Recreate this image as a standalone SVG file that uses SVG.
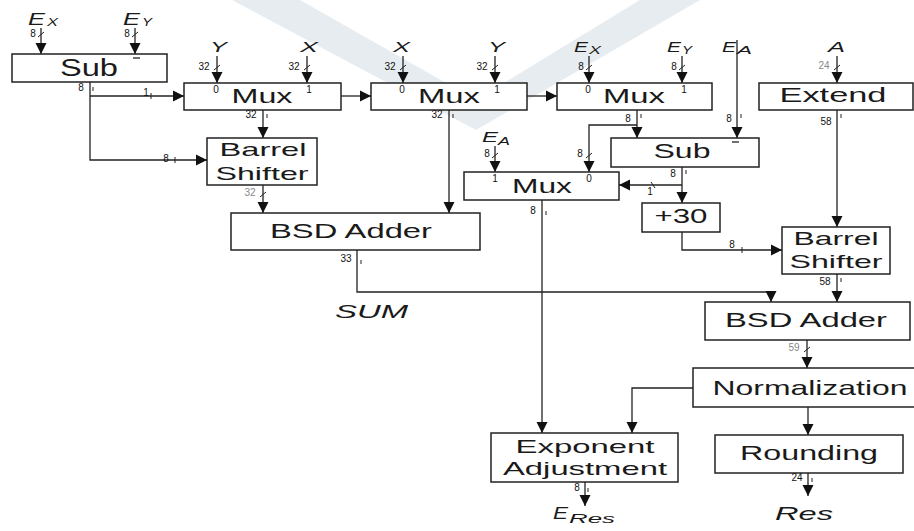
<svg xmlns="http://www.w3.org/2000/svg" width="914" height="531" viewBox="0 0 914 531">
<style>
.bx{fill:#fff;stroke:#222;stroke-width:1.5}
.ln{fill:none;stroke:#222;stroke-width:1.3}
.tk{fill:none;stroke:#222;stroke-width:1}
.t{font-family:"Liberation Sans",Arial,sans-serif;fill:#1a1a1a;text-anchor:middle}
.big{font-size:21px}
.mid{font-size:19px}
.sm{font-size:10px;fill:#111}
.gr{fill:#888}
.it{font-family:"Liberation Sans",Arial,sans-serif;font-style:italic;fill:#1a1a1a}
</style>
<defs>
<marker id="ah" markerWidth="12" markerHeight="12" refX="11" refY="6" orient="auto" markerUnits="userSpaceOnUse">
<path d="M0,0.5 L11,6 L0,11.5 z" fill="#111"/>
</marker>
</defs>
<rect width="914" height="531" fill="#fff"/>
<g id="watermark" fill="#e6ecef">
<polygon points="232,0 300,0 476,100 640,0 700,0 476,130"/>
</g>

<g id="connectors">
<line class="ln" x1="41" y1="28" x2="41" y2="54" marker-end="url(#ah)"/>
<line class="ln" x1="135" y1="28" x2="135" y2="54" marker-end="url(#ah)"/>
<polyline class="ln" points="90,82 90,160 207,160" marker-end="url(#ah)"/>
<line class="ln" x1="90" y1="96" x2="184" y2="96" marker-end="url(#ah)"/>
<line class="ln" x1="217" y1="56" x2="217" y2="83" marker-end="url(#ah)"/>
<line class="ln" x1="307" y1="56" x2="307" y2="83" marker-end="url(#ah)"/>
<line class="ln" x1="403" y1="56" x2="403" y2="83" marker-end="url(#ah)"/>
<line class="ln" x1="495" y1="56" x2="495" y2="83" marker-end="url(#ah)"/>
<line class="ln" x1="589" y1="56" x2="589" y2="83" marker-end="url(#ah)"/>
<line class="ln" x1="682" y1="56" x2="682" y2="83" marker-end="url(#ah)"/>
<line class="ln" x1="837" y1="56" x2="837" y2="83" marker-end="url(#ah)"/>
<line class="ln" x1="341" y1="96" x2="371" y2="96" marker-end="url(#ah)"/>
<line class="ln" x1="527" y1="96" x2="557" y2="96" marker-end="url(#ah)"/>
<line class="ln" x1="263" y1="110" x2="263" y2="138" marker-end="url(#ah)"/>
<line class="ln" x1="263" y1="185" x2="263" y2="213" marker-end="url(#ah)"/>
<line class="ln" x1="449" y1="110" x2="449" y2="213" marker-end="url(#ah)"/>
<line class="ln" x1="637" y1="110" x2="637" y2="138" marker-end="url(#ah)"/>
<polyline class="ln" points="637,125 589,125 589,172" marker-end="url(#ah)"/>
<line class="ln" x1="737" y1="40" x2="737" y2="138" marker-end="url(#ah)"/>
<line class="ln" x1="495" y1="146" x2="495" y2="172" marker-end="url(#ah)"/>
<line class="ln" x1="682" y1="167" x2="682" y2="203" marker-end="url(#ah)"/>
<line class="ln" x1="682" y1="185" x2="619" y2="185" marker-end="url(#ah)"/>
<polyline class="ln" points="682,232 682,250 782,250" marker-end="url(#ah)"/>
<line class="ln" x1="837" y1="110" x2="837" y2="227" marker-end="url(#ah)"/>
<line class="ln" x1="837" y1="274" x2="837" y2="302" marker-end="url(#ah)"/>
<polyline class="ln" points="357,250 357,292 771,292 771,302" marker-end="url(#ah)"/>
<line class="ln" x1="542" y1="200" x2="542" y2="433" marker-end="url(#ah)"/>
<line class="ln" x1="807" y1="340" x2="807" y2="368" marker-end="url(#ah)"/>
<polyline class="ln" points="693,388 632,388 632,433" marker-end="url(#ah)"/>
<line class="ln" x1="808" y1="407" x2="808" y2="435" marker-end="url(#ah)"/>
<line class="ln" x1="808" y1="473" x2="808" y2="496" marker-end="url(#ah)"/>
<line class="ln" x1="585" y1="482" x2="585" y2="506" marker-end="url(#ah)"/>

<g class="tk">
<line x1="38" y1="37" x2="44" y2="32"/>
<line x1="132" y1="37" x2="138" y2="32"/>
<line x1="214" y1="70" x2="220" y2="65"/>
<line x1="304" y1="70" x2="310" y2="65"/>
<line x1="400" y1="70" x2="406" y2="65"/>
<line x1="492" y1="70" x2="498" y2="65"/>
<line x1="586" y1="70" x2="592" y2="65"/>
<line x1="679" y1="70" x2="685" y2="65"/>
<line x1="834" y1="70" x2="840" y2="65"/>
<line x1="492" y1="158" x2="498" y2="153"/>
<line x1="586" y1="158" x2="592" y2="153"/>
<line x1="260" y1="197" x2="266" y2="192"/>
<line x1="804" y1="352" x2="810" y2="347"/>
<line x1="651" y1="182" x2="655" y2="188"/>
<line x1="93" y1="87" x2="93" y2="91"/>
<line x1="151" y1="93" x2="151" y2="99"/>
<line x1="175" y1="157" x2="175" y2="163"/>
<line x1="267" y1="114" x2="267" y2="118"/>
<line x1="453" y1="114" x2="453" y2="118"/>
<line x1="641" y1="114" x2="641" y2="118"/>
<line x1="741" y1="114" x2="741" y2="118"/>
<line x1="841" y1="114" x2="841" y2="118"/>
<line x1="686" y1="170" x2="686" y2="174"/>
<line x1="546" y1="211" x2="546" y2="215"/>
<line x1="742" y1="247" x2="742" y2="253"/>
<line x1="361" y1="260" x2="361" y2="264"/>
<line x1="841" y1="278" x2="841" y2="282"/>
<line x1="812" y1="478" x2="812" y2="482"/>
<line x1="588" y1="488" x2="588" y2="492"/>
</g>
</g>

<g id="inputs">
<text class="it" x="28" y="25" font-size="17" textLength="17" lengthAdjust="spacingAndGlyphs">E</text>
<text class="it" x="47" y="26" font-size="11" textLength="11" lengthAdjust="spacingAndGlyphs">X</text>
<text class="it" x="123" y="25" font-size="17" textLength="17" lengthAdjust="spacingAndGlyphs">E</text>
<text class="it" x="142" y="26" font-size="11" textLength="10" lengthAdjust="spacingAndGlyphs">Y</text>
<text class="it" x="210" y="52" font-size="15" textLength="17" lengthAdjust="spacingAndGlyphs">Y</text>
<text class="it" x="300" y="52" font-size="15" textLength="18" lengthAdjust="spacingAndGlyphs">X</text>
<text class="it" x="393" y="52" font-size="15" textLength="17" lengthAdjust="spacingAndGlyphs">X</text>
<text class="it" x="488" y="52" font-size="15" textLength="17" lengthAdjust="spacingAndGlyphs">Y</text>
<text class="it" x="574" y="52" font-size="15" textLength="14" lengthAdjust="spacingAndGlyphs">E</text>
<text class="it" x="589" y="54" font-size="11" textLength="12" lengthAdjust="spacingAndGlyphs">X</text>
<text class="it" x="667" y="52" font-size="15" textLength="14" lengthAdjust="spacingAndGlyphs">E</text>
<text class="it" x="682" y="54" font-size="11" textLength="10" lengthAdjust="spacingAndGlyphs">Y</text>
<text class="it" x="722" y="52" font-size="15" textLength="14" lengthAdjust="spacingAndGlyphs" fill="#444">E</text>
<text class="it" x="737" y="54" font-size="11" textLength="15" lengthAdjust="spacingAndGlyphs" fill="#444">A</text>
<text class="it" x="828" y="52" font-size="15" textLength="17" lengthAdjust="spacingAndGlyphs">A</text>
<text class="it" x="482" y="142" font-size="15" textLength="16" lengthAdjust="spacingAndGlyphs">E</text>
<text class="it" x="498" y="145" font-size="11" textLength="12" lengthAdjust="spacingAndGlyphs">A</text>
<text class="it" x="335" y="318" font-size="18" textLength="73" lengthAdjust="spacingAndGlyphs">SUM</text>
<text class="it" x="553" y="519" font-size="17" textLength="15" lengthAdjust="spacingAndGlyphs">E</text>
<text class="it" x="569" y="523" font-size="12" textLength="46" lengthAdjust="spacingAndGlyphs">Res</text>
<text class="it" x="775" y="520" font-size="18" textLength="58" lengthAdjust="spacingAndGlyphs">Res</text>
</g>

<g id="widths">
<text class="t sm" x="33" y="37">8</text>
<text class="t sm" x="127" y="37">8</text>
<text class="t sm" x="81" y="91">8</text>
<text class="t sm" x="146" y="96">1</text>
<text class="t sm" x="166" y="162">8</text>
<text class="t sm" x="204" y="70">32</text>
<text class="t sm" x="294" y="70">32</text>
<text class="t sm" x="390" y="70">32</text>
<text class="t sm" x="482" y="70">32</text>
<text class="t sm" x="581" y="70">8</text>
<text class="t sm" x="674" y="70">8</text>
<text class="t sm gr" x="824" y="69">24</text>
<text class="t sm" x="251" y="118">32</text>
<text class="t sm" x="437" y="118">32</text>
<text class="t sm" x="628" y="122">8</text>
<text class="t sm" x="729" y="122">8</text>
<text class="t sm" x="826" y="125">58</text>
<text class="t sm" x="487" y="157">8</text>
<text class="t sm" x="580" y="157">8</text>
<text class="t sm" x="673" y="177">8</text>
<text class="t sm" x="650" y="195">1</text>
<text class="t sm gr" x="250" y="196">32</text>
<text class="t sm" x="533" y="214">8</text>
<text class="t sm" x="732" y="248">8</text>
<text class="t sm" x="346" y="262">33</text>
<text class="t sm" x="825" y="285">58</text>
<text class="t sm gr" x="794" y="351">59</text>
<text class="t sm" x="797" y="481">24</text>
<text class="t sm" x="577" y="491">8</text>
</g>

<g id="sub1">
<rect class="bx" x="12" y="54" width="155" height="28"/>
<text class="t" x="89" y="76" font-size="23" textLength="58" lengthAdjust="spacingAndGlyphs">Sub</text>
<line class="ln" x1="133" y1="58" x2="140" y2="58" stroke-width="2"/>
</g>
<g id="mux1">
<rect class="bx" x="184" y="83" width="157" height="27"/>
<text class="t big" x="262" y="103" textLength="61" lengthAdjust="spacingAndGlyphs">Mux</text>
<text class="t sm" x="216" y="93">0</text>
<text class="t sm" x="309" y="93">1</text>
</g>
<g id="mux2">
<rect class="bx" x="371" y="83" width="156" height="27"/>
<text class="t big" x="449" y="103" textLength="62" lengthAdjust="spacingAndGlyphs">Mux</text>
<text class="t sm" x="402" y="93">0</text>
<text class="t sm" x="497" y="93">1</text>
</g>
<g id="mux3">
<rect class="bx" x="557" y="83" width="155" height="27"/>
<text class="t big" x="634" y="103" textLength="62" lengthAdjust="spacingAndGlyphs">Mux</text>
<text class="t sm" x="588" y="93">0</text>
<text class="t sm" x="684" y="93">1</text>
</g>
<g id="extend">
<rect class="bx" x="759" y="83" width="154" height="27"/>
<text class="t big" x="833" y="102" textLength="107" lengthAdjust="spacingAndGlyphs">Extend</text>
</g>
<g id="barrel1">
<rect class="bx" x="207" y="138" width="110" height="47"/>
<text class="t mid" x="263" y="156" textLength="87" lengthAdjust="spacingAndGlyphs">Barrel</text>
<text class="t mid" x="262" y="180" textLength="93" lengthAdjust="spacingAndGlyphs">Shifter</text>
</g>
<g id="sub2">
<rect class="bx" x="611" y="138" width="148" height="29"/>
<text class="t big" x="682" y="158" textLength="57" lengthAdjust="spacingAndGlyphs">Sub</text>
<line class="ln" x1="732" y1="142" x2="739" y2="142" stroke-width="2"/>
</g>
<g id="mux4">
<rect class="bx" x="464" y="172" width="155" height="28"/>
<text class="t big" x="542" y="193" textLength="60" lengthAdjust="spacingAndGlyphs">Mux</text>
<text class="t sm" x="495" y="182">1</text>
<text class="t sm" x="589" y="182">0</text>
</g>
<g id="plus30">
<rect class="bx" x="642" y="203" width="78" height="29"/>
<text class="t big" x="681" y="223" textLength="53" lengthAdjust="spacingAndGlyphs">+30</text>
</g>
<g id="bsd1">
<rect class="bx" x="231" y="213" width="249" height="37"/>
<text class="t big" x="351" y="238" textLength="162" lengthAdjust="spacingAndGlyphs">BSD Adder</text>
</g>
<g id="barrel2">
<rect class="bx" x="782" y="227" width="108" height="47"/>
<text class="t mid" x="836" y="245" textLength="85" lengthAdjust="spacingAndGlyphs">Barrel</text>
<text class="t mid" x="836" y="268" textLength="93" lengthAdjust="spacingAndGlyphs">Shifter</text>
</g>
<g id="bsd2">
<rect class="bx" x="705" y="302" width="205" height="38"/>
<text class="t big" x="806" y="327" textLength="162" lengthAdjust="spacingAndGlyphs">BSD Adder</text>
</g>
<g id="normalization">
<rect class="bx" x="693" y="368" width="230" height="39"/>
<text class="t big" x="810" y="395" textLength="195" lengthAdjust="spacingAndGlyphs">Normalization</text>
</g>
<g id="expadj">
<rect class="bx" x="491" y="433" width="187" height="49"/>
<text class="t mid" x="585" y="453" textLength="139" lengthAdjust="spacingAndGlyphs">Exponent</text>
<text class="t mid" x="585" y="475" textLength="164" lengthAdjust="spacingAndGlyphs">Adjustment</text>
</g>
<g id="rounding">
<rect class="bx" x="715" y="435" width="188" height="38"/>
<text class="t big" x="809" y="460" textLength="138" lengthAdjust="spacingAndGlyphs">Rounding</text>
</g>
</svg>
